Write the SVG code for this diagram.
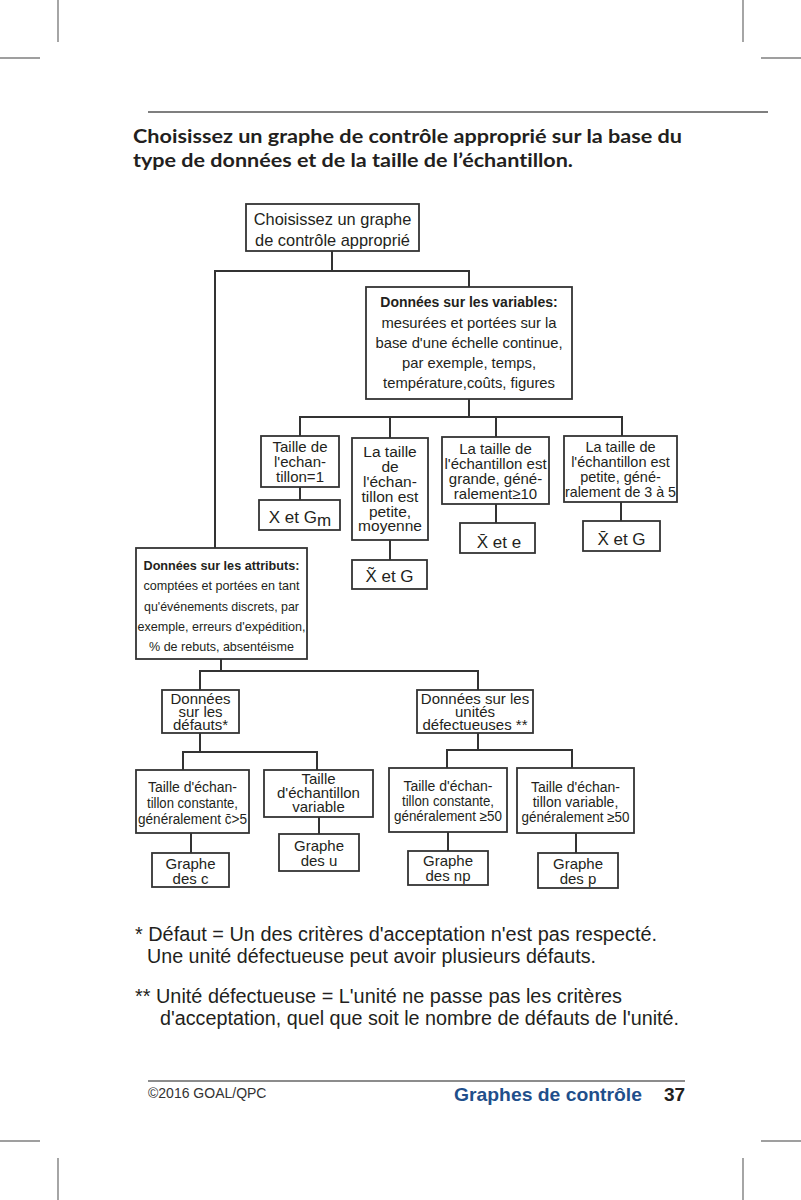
<svg xmlns="http://www.w3.org/2000/svg" width="801" height="1200" viewBox="0 0 801 1200">
<style>
.t{font-family:"Liberation Sans",Arial,Helvetica,sans-serif;fill:#231f20;text-anchor:middle}
.b{font-weight:bold}
.box{fill:#fff;stroke:#333;stroke-width:1.8}
.crop{stroke:#808080;stroke-width:1.4;fill:none}
.con{stroke:#333;stroke-width:2;fill:none}
.f14{font-size:14px}
.f15{font-size:15px}
.f135{font-size:13.5px}
.f17{font-size:17px}
</style>
<rect width="801" height="1200" fill="#fff"/>
<g id="crop-marks">
<path class="crop" d="M58,0V42M0,58H40M743,0V42M761,58H801M0,1141H40M761,1141H801M58,1158V1200M743,1158V1200"/>
</g>
<g id="header">
<line x1="148" y1="112" x2="768" y2="112" stroke="#555" stroke-width="1.3"/>
<text x="133" y="143" font-family="Lato,'Open Sans',sans-serif" font-weight="bold" font-size="19" fill="#231f20" style="font-variant-ligatures:none" textLength="549" lengthAdjust="spacingAndGlyphs">Choisissez un graphe de contrôle approprié sur la base du</text>
<text x="133" y="167" font-family="Lato,'Open Sans',sans-serif" font-weight="bold" font-size="19" fill="#231f20" style="font-variant-ligatures:none" textLength="440" lengthAdjust="spacingAndGlyphs">type de données et de la taille de l’échantillon.</text>
</g>
<g id="connectors">
<path class="con" d="M332,251V271M215,548V271H469V287M469,399V417M300,436V417H622V436M390,417V438M496,417V437M300,487V500M390,540V560M496,504V523M621,502V521M221,659V671M200,690V671H478V690M200,733V752M183,770V752H317V770M478,733V750M447,768V750H572V768M191,833V853M319,817V834M448,832V851M576,833V853"/>
</g>
<g id="n-root">
<rect class="box" x="246" y="204" width="173" height="47"/>
<text class="t" x="332.5" y="225" font-size="16.4">Choisissez un graphe</text>
<text class="t" x="332.5" y="246" font-size="16.4">de contrôle approprié</text>
</g>
<g id="n-var">
<rect class="box" x="366" y="287" width="206" height="112"/>
<text class="t b f14" x="469" y="307">Données sur les variables:</text>
<text class="t" x="469" y="328" font-size="14.8">mesurées et portées sur la</text>
<text class="t" x="469" y="348" font-size="14.8">base d'une échelle continue,</text>
<text class="t" x="469" y="368" font-size="14.8">par exemple, temps,</text>
<text class="t" x="469" y="388" font-size="14.8">température,coûts, figures</text>
</g>
<g id="n-v1">
<rect class="box" x="261" y="436" width="78" height="51"/>
<text class="t f15" x="300" y="452">Taille de</text>
<text class="t f15" x="300" y="467">l'echan-</text>
<text class="t f15" x="300" y="482">tillon=1</text>
</g>
<g id="n-v2">
<rect class="box" x="352" y="438" width="76" height="102"/>
<text class="t" font-size="15.5" x="390" y="457">La taille</text>
<text class="t" font-size="15.5" x="390" y="472">de</text>
<text class="t" font-size="15.5" x="390" y="487">l'échan-</text>
<text class="t" font-size="15.5" x="390" y="502">tillon est</text>
<text class="t" font-size="15.5" x="390" y="517">petite,</text>
<text class="t" font-size="15.5" x="390" y="531">moyenne</text>
</g>
<g id="n-v3">
<rect class="box" x="442" y="437" width="107" height="67"/>
<text class="t f15" x="495.5" y="454">La taille de</text>
<text class="t f15" x="495.5" y="469">l'échantillon est</text>
<text class="t f15" x="495.5" y="484">grande, géné-</text>
<text class="t f15" x="495.5" y="499">ralement≥10</text>
</g>
<g id="n-v4">
<rect class="box" x="564" y="436" width="113" height="66"/>
<text class="t" font-size="14.5" x="620.5" y="452">La taille de</text>
<text class="t" font-size="14.5" x="620.5" y="467">l'échantillon est</text>
<text class="t" font-size="14.5" x="620.5" y="482">petite, géné-</text>
<text class="t" font-size="14.5" x="620.5" y="497" textLength="111" lengthAdjust="spacingAndGlyphs">ralement de 3 à 5</text>
</g>
<g id="n-r1">
<rect class="box" x="259" y="500" width="81" height="30"/>
<text class="t f17" x="300" y="523">X et G<tspan dy="3">m</tspan></text>
</g>
<g id="n-r2">
<rect class="box" x="352" y="560" width="75" height="29"/>
<text class="t f17" x="389.5" y="582">X̃ et G</text>
</g>
<g id="n-r3">
<rect class="box" x="460" y="523" width="75" height="30"/>
<text class="t f17" x="499" y="548">X̄ et e</text>
</g>
<g id="n-r4">
<rect class="box" x="583" y="521" width="77" height="30"/>
<text class="t f17" x="621.5" y="545">X̄ et G</text>
</g>
<g id="n-attr">
<rect class="box" x="136" y="548" width="171" height="111"/>
<text class="t b f135" x="221.5" y="570" textLength="156" lengthAdjust="spacingAndGlyphs">Données sur les attributs:</text>
<text class="t f135" x="221.5" y="590" textLength="156" lengthAdjust="spacingAndGlyphs">comptées et portées en tant</text>
<text class="t f135" x="221.5" y="611" textLength="155" lengthAdjust="spacingAndGlyphs">qu'événements discrets, par</text>
<text class="t f135" x="221.5" y="631" textLength="168" lengthAdjust="spacingAndGlyphs">exemple, erreurs d'expédition,</text>
<text class="t f135" x="221.5" y="651" textLength="145" lengthAdjust="spacingAndGlyphs">% de rebuts, absentéisme</text>
</g>
<g id="n-def">
<rect class="box" x="162" y="690" width="77" height="43"/>
<text class="t f15" x="200.5" y="704">Données</text>
<text class="t f15" x="200.5" y="717">sur les</text>
<text class="t f15" x="200.5" y="730">défauts*</text>
</g>
<g id="n-unit">
<rect class="box" x="417" y="690" width="116" height="43"/>
<text class="t f15" x="475" y="704">Données sur les</text>
<text class="t f15" x="475" y="717">unités</text>
<text class="t f15" x="475" y="730">défectueuses **</text>
</g>
<g id="n-c1">
<rect class="box" x="136" y="770" width="113" height="63"/>
<text class="t f14" x="192.5" y="792">Taille d'échan-</text>
<text class="t f14" x="192.5" y="808" textLength="91" lengthAdjust="spacingAndGlyphs">tillon constante,</text>
<text class="t f14" x="192.5" y="824" textLength="109" lengthAdjust="spacingAndGlyphs">généralement c̄&gt;5</text>
</g>
<g id="n-u1">
<rect class="box" x="264" y="770" width="109" height="47"/>
<text class="t f15" x="318.5" y="784">Taille</text>
<text class="t f15" x="318.5" y="798">d'échantillon</text>
<text class="t f15" x="318.5" y="812">variable</text>
</g>
<g id="n-np1">
<rect class="box" x="389" y="768" width="118" height="64"/>
<text class="t f14" x="448" y="791">Taille d'échan-</text>
<text class="t f14" x="448" y="806" textLength="92" lengthAdjust="spacingAndGlyphs">tillon constante,</text>
<text class="t f14" x="448" y="821" textLength="108" lengthAdjust="spacingAndGlyphs">généralement ≥50</text>
</g>
<g id="n-p1">
<rect class="box" x="517" y="768" width="117" height="65"/>
<text class="t f14" x="575.5" y="792">Taille d'échan-</text>
<text class="t f14" x="575.5" y="807">tillon variable,</text>
<text class="t f14" x="575.5" y="822" textLength="108" lengthAdjust="spacingAndGlyphs">généralement ≥50</text>
</g>
<g id="n-gc">
<rect class="box" x="152" y="853" width="77" height="34"/>
<text class="t f15" x="190.5" y="869">Graphe</text>
<text class="t f15" x="190.5" y="884">des c</text>
</g>
<g id="n-gu">
<rect class="box" x="279" y="834" width="80" height="37"/>
<text class="t f15" x="319" y="851">Graphe</text>
<text class="t f15" x="319" y="866">des u</text>
</g>
<g id="n-gnp">
<rect class="box" x="408" y="851" width="80" height="34"/>
<text class="t f15" x="448" y="866">Graphe</text>
<text class="t f15" x="448" y="881">des np</text>
</g>
<g id="n-gp">
<rect class="box" x="538" y="853" width="80" height="35"/>
<text class="t f15" x="578" y="869">Graphe</text>
<text class="t f15" x="578" y="884">des p</text>
</g>
<g id="footnotes" font-family="'Liberation Sans',Arial,sans-serif" font-size="19.5" fill="#231f20">
<text x="135" y="941" textLength="522" lengthAdjust="spacingAndGlyphs">* Défaut = Un des critères d'acceptation n'est pas respecté.</text>
<text x="147" y="963" textLength="449" lengthAdjust="spacingAndGlyphs">Une unité défectueuse peut avoir plusieurs défauts.</text>
<text x="135" y="1003" textLength="487" lengthAdjust="spacingAndGlyphs">** Unité défectueuse = L'unité ne passe pas les critères</text>
<text x="160" y="1025" textLength="519" lengthAdjust="spacingAndGlyphs">d'acceptation, quel que soit le nombre de défauts de l'unité.</text>
</g>
<g id="footer" font-family="'Liberation Sans',Arial,sans-serif">
<line x1="148" y1="1081" x2="685" y2="1081" stroke="#666" stroke-width="1.3"/>
<text x="148" y="1098" font-size="14" fill="#333">©2016 GOAL/QPC</text>
<text x="454" y="1101" font-size="19" font-weight="bold" fill="#1f4f8b" textLength="188" lengthAdjust="spacingAndGlyphs">Graphes de contrôle</text>
<text x="664" y="1101" font-size="19" font-weight="bold" fill="#231f20">37</text>
</g>
</svg>
